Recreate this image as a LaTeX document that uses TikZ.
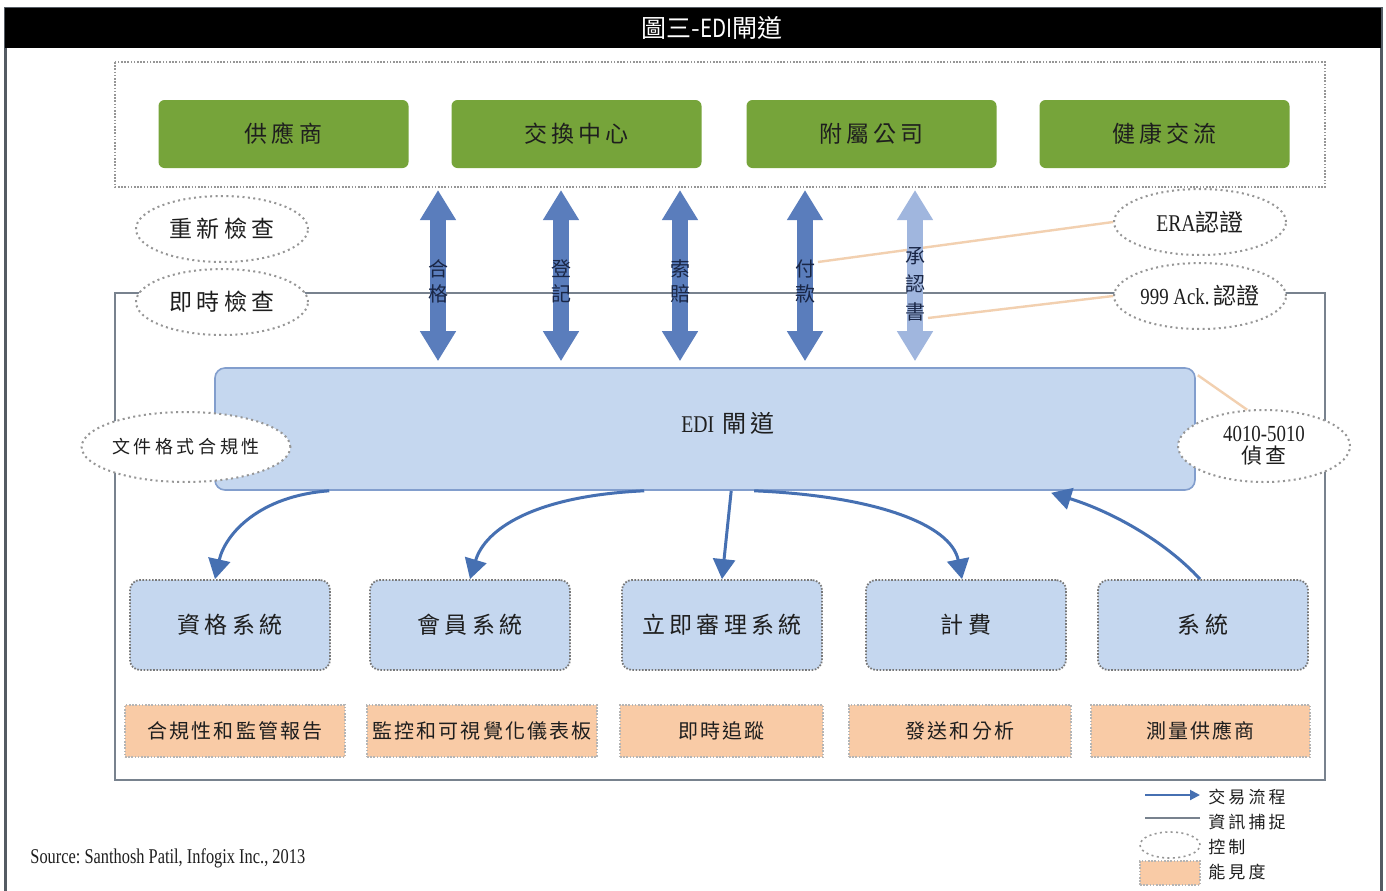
\documentclass[tikz,border=0pt]{standalone}
\usepackage{fontspec}
\setmainfont{Liberation Serif}
\newfontfamily\cjk{Noto Sans CJK TC}
\newfontfamily\cjkA[LetterSpace=18]{Noto Sans CJK TC}
\newfontfamily\cjkB[LetterSpace=11]{Noto Sans CJK TC}
\newfontfamily\cjkC[LetterSpace=20]{Noto Sans CJK TC}
\usetikzlibrary{arrows.meta,shapes.geometric,calc}
\definecolor{boxgreen}{RGB}{118,164,58}
\definecolor{lightblue}{RGB}{197,215,239}
\definecolor{ediborder}{RGB}{130,158,205}
\definecolor{arrblue}{RGB}{90,125,188}
\definecolor{arrlight}{RGB}{160,182,222}
\definecolor{flowblue}{RGB}{70,112,178}
\definecolor{peach}{RGB}{249,203,166}
\definecolor{ctlline}{RGB}{242,208,176}
\definecolor{dotgray}{RGB}{150,150,150}
\definecolor{framegray}{RGB}{120,130,142}
\definecolor{txt}{RGB}{30,30,30}
\definecolor{navy}{RGB}{25,38,70}
\newcommand\cond[1]{\scalebox{0.82}[1]{#1}}
\tikzset{
  gbox/.style={rectangle, rounded corners=3pt, fill=boxgreen, minimum width=125pt, minimum height=34pt, inner sep=0pt, text=txt, font=\fontsize{11.5}{13}\selectfont\cjkA},
  ctrl/.style={ellipse, draw=dotgray, dash pattern=on 1pt off 1.7pt, line width=1pt, fill=white, inner sep=0pt, minimum width=86pt, minimum height=33pt, text=txt},
  sbox/.style={rectangle, rounded corners=5pt, fill=lightblue, draw=dotgray!80!black, dash pattern=on 0.8pt off 0.8pt, line width=0.9pt, minimum width=100pt, minimum height=45pt, inner sep=0pt, text=txt, font=\fontsize{11.5}{13}\selectfont\cjkA},
  obox/.style={rectangle, fill=peach, draw=dotgray!70, dash pattern=on 0.8pt off 0.8pt, line width=0.7pt, minimum height=26pt, inner sep=0pt, text=txt, font=\fontsize{10}{12}\selectfont\cjkB},
  dbl/.style={line width=8pt, draw=arrblue, {Triangle[width=17pt,length=15pt]}-{Triangle[width=17pt,length=15pt]}},
  vlab/.style={align=center, text=navy, font=\fontsize{10}{12.5}\selectfont\cjk, inner sep=0pt},
  flow/.style={draw=flowblue, line width=1.5pt, -{Triangle[width=11pt,length=10pt]}},
  ctl/.style={draw=ctlline, line width=1.2pt},
  legtxt/.style={anchor=west, text=txt, inner sep=0pt, font=\fontsize{8.5}{10}\selectfont\cjkA},
}
\begin{document}
\begin{tikzpicture}[x=0.5pt,y=-0.5pt]
% canvas
\fill[white] (0,0) rectangle (1386,890);
\useasboundingbox (0,0) rectangle (1386,890);
\draw[framegray!70!black, line width=1.5pt] (5,8) rectangle (1381,892);
\fill[black] (5,8) rectangle (1381,48);
\node[text=white, inner sep=0pt, font=\fontsize{12.5}{14}\selectfont] (title) at (712,28) {\cjk 圖三-\cond{EDI}閘道};

% top dotted frame and partners
\draw[dotgray, dash pattern=on 0.8pt off 0.8pt, line width=0.8pt] (115,62) rectangle (1325,187);
\coordinate (topS) at (0,187);
\node[gbox] (sup) at (283.5,134) {供應商};
\node[gbox] (hub) at (576.5,134) {交換中心};
\node[gbox] (aff) at (871.5,134) {附屬公司};
\node[gbox] (hx)  at (1164.5,134) {健康交流};

% information capture frame
\draw[framegray, line width=1.1pt] (115,293) rectangle (1325,780);

% EDI gateway
\node[rectangle, rounded corners=5pt, fill=lightblue, draw=ediborder, line width=0.8pt, minimum width=490pt, minimum height=61pt] (edi) at (705,429) {};
\node[inner sep=0pt, text=txt, font=\fontsize{12}{14}\selectfont] (ediL) at (728,423) {\cond{EDI}\hspace{4pt}{\cjkA 閘道}};

% reference points
\coordinate (c1) at (438,0);
\coordinate (c2) at (561,0);
\coordinate (c3) at (680,0);
\coordinate (c4) at (805,0);
\coordinate (c5) at (915,0);
\coordinate (pA) at (818,262);
\coordinate (pB) at (928,318);

% controls
\node[ctrl] (era) at (1200,222) {\fontsize{12}{14}\selectfont\cond{ERA}{\cjk 認證}};
\node[ctrl] (ack) at (1200,296) {\fontsize{11.5}{14}\selectfont\cond{999 Ack.}\hspace{2pt}{\cjk 認證}};
\node[ctrl, minimum width=86pt, minimum height=36pt, align=center] (det) at (1264,446) {\fontsize{11.5}{14}\selectfont\cond{4010-5010}\\[-1pt]{\cjkA\fontsize{10.5}{12}\selectfont 偵查}};
\node[ctrl] (rechk) at (222,229) {\fontsize{11.5}{13}\selectfont\cjkA 重新檢查};
\node[ctrl] (rtchk) at (222,302) {\fontsize{11.5}{13}\selectfont\cjkA 即時檢查};
\node[ctrl, minimum width=89pt, minimum height=35pt] (fmt) at (186,447) {\fontsize{9}{11}\selectfont\cjkC 文件格式合規性};
\draw[ctl] (pA) -- (era.west);
\draw[ctl] (pB) -- (ack.west);
\draw[ctl] ($(edi.north east)+(2,8)$) -- (det.115);

% double arrows
\draw[dbl] ($(topS -| c1)+(0,3)$) -- ($(edi.north -| c1)+(0,-6)$);
\draw[dbl] ($(topS -| c2)+(0,3)$) -- ($(edi.north -| c2)+(0,-6)$);
\draw[dbl] ($(topS -| c3)+(0,3)$) -- ($(edi.north -| c3)+(0,-6)$);
\draw[dbl] ($(topS -| c4)+(0,3)$) -- ($(edi.north -| c4)+(0,-6)$);
\draw[dbl, draw=arrlight] ($(topS -| c5)+(0,3)$) -- ($(edi.north -| c5)+(0,-6)$);
\node[vlab] (l1) at (438,281) {合\\格};
\node[vlab] (l2) at (561,281) {登\\記};
\node[vlab] (l3) at (680,281) {索\\賠};
\node[vlab] (l4) at (805,281) {付\\款};
\node[vlab, font=\fontsize{10}{14}\selectfont\cjk] (l5) at (915,284) {承\\認\\書};

% systems
\node[sbox] (s1) at (230,625) {資格系統};
\node[sbox] (s2) at (470,625) {會員系統};
\node[sbox] (s3) at (722,625) {立即審理系統};
\node[sbox] (s4) at (966,625) {計費};
\node[sbox, minimum width=105pt] (s5) at (1203,625) {系統};

% transaction flows
\draw[flow] ($(edi.south west)+(115,0)$) .. controls ($(edi.south west)+(45,5)$) and ($(s1.north)+(-5,-45)$) .. ($(s1.north)+(-15,0)$);
\draw[flow] ($(edi.south west)+(430,0)$) .. controls ($(edi.south west)+(320,5)$) and ($(s2.north)+(15,-50)$) .. ($(s2.north)+(0,0)$);
\draw[flow] ($(edi.south west)+(517,0)$) -- ($(s3.north)+(0,0)$);
\draw[flow] ($(edi.south west)+(540,0)$) .. controls ($(edi.south west)+(660,5)$) and ($(s4.north)+(-15,-55)$) .. ($(s4.north)+(-4,0)$);
\draw[flow] ($(s5.north)+(-3,0)$) .. controls ($(s5.north)+(-40,-40)$) and ($(edi.south west)+(895,20)$) .. ($(edi.south west)+(837,2)$);

% visibility
\node[obox, minimum width=110pt] (v1) at (235,731) {合規性和監管報告};
\node[obox, minimum width=115pt] (v2) at (482,731) {監控和可視覺化儀表板};
\node[obox, minimum width=101.5pt] (v3) at (721.5,731) {即時追蹤};
\node[obox, minimum width=111pt] (v4) at (960,731) {發送和分析};
\node[obox, minimum width=109.5pt] (v5) at (1200.5,731) {測量供應商};

% legend
\coordinate (lg1a) at (1145,795);
\coordinate (lg1b) at (1200,795);
\coordinate (lg2a) at (1145,818);
\coordinate (lg2b) at (1200,818);
\draw[draw=flowblue, line width=1pt, -{Triangle[width=5pt,length=5pt]}] (lg1a) -- (lg1b);
\draw[draw=framegray, line width=0.7pt] (lg2a) -- (lg2b);
\node[ctrl, minimum width=30pt, minimum height=13pt, line width=0.8pt] (lg3) at (1170,845) {};
\node[obox, minimum width=30pt, minimum height=12pt] (lg4) at (1170,873) {};
\node[legtxt] (t1) at (1208,797) {交易流程};
\node[legtxt] (t2) at (1208,822) {資訊捕捉};
\node[legtxt] (t3) at (1208,847) {控制};
\node[legtxt] (t4) at (1208,872) {能見度};

% source
\node[anchor=west, inner sep=0pt, text=txt, font=\fontsize{10.5}{12}\selectfont] (src) at (30,858) {\scalebox{0.78}[1]{Source:\ Santhosh Patil, Infogix Inc., 2013}};
\end{tikzpicture}
\end{document}
